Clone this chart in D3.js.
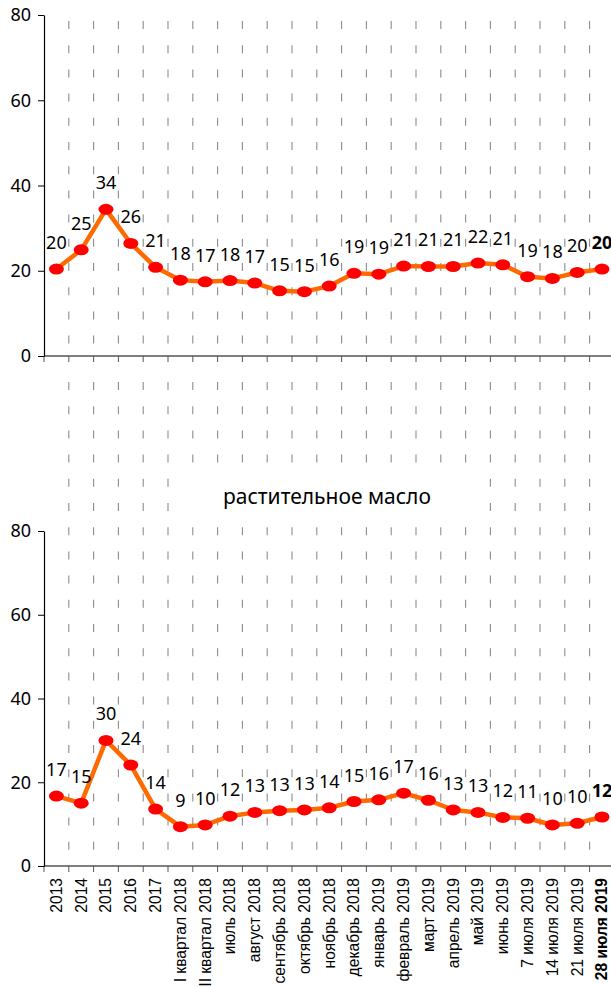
<!DOCTYPE html>
<html>
<head>
<meta charset="utf-8">
<title>chart</title>
<style>
  body { margin: 0; background: #fff; }
  svg { display: block; }
</style>
</head>
<body>
<svg id="chart" width="611" height="987"></svg>
<script src="https://d3js.org/d3.v7.min.js"></script>
<script>
var categories = ["2013", "2014", "2015", "2016", "2017", "I квартал 2018", "II квартал 2018",
  "июль 2018", "август 2018", "сентябрь 2018", "октябрь 2018", "ноябрь 2018", "декабрь 2018",
  "январь 2019", "февраль 2019", "март 2019", "апрель 2019", "май 2019", "июнь 2019",
  "7 июля 2019", "14 июля 2019", "21 июля 2019", "28 июля 2019"];

// upper panel (its title is cut off in the picture)
var topValues = [20.4, 24.9, 34.4, 26.4, 20.8, 17.8, 17.4, 17.7, 17.1, 15.3, 15.1, 16.4,
  19.4, 19.2, 21.1, 21.0, 21.0, 21.8, 21.4, 18.6, 18.2, 19.6, 20.4];

// растительное масло
var oilTitle = "растительное масло";
var oilValues = [16.7, 15.0, 30.0, 24.1, 13.6, 9.4, 9.8, 11.9, 12.8, 13.2, 13.4, 13.9,
  15.4, 15.8, 17.4, 15.7, 13.4, 12.8, 11.6, 11.4, 9.8, 10.2, 11.7];

var yTicks = [0, 20, 40, 60, 80];

var svg = d3.select("#chart");
var left = 44;

var x = d3.scaleBand()
  .domain(categories)
  .range([left, left + 24.8 * categories.length])
  .padding(0);
var bw = x.bandwidth();
var cx = function(d, i) { return x(categories[i]) + bw / 2; };
var bounds = categories.map(function(c) { return x(c); }).concat([x.range()[1]]);

function panel(values, y0, y1, gridTop) {
  var y = d3.scaleLinear().domain([0, 80]).range([y0, y1]);
  var g = svg.append("g");

  // dashed vertical grid
  g.selectAll("line.grid")
    .data(bounds.slice(1))
    .enter()
    .append("line")
    .attr("class", "grid")
    .attr("x1", function(d) { return d; })
    .attr("x2", function(d) { return d; })
    .attr("y1", gridTop)
    .attr("y2", y0)
    .attr("stroke", "#8c8c8c")
    .attr("stroke-width", 1.1)
    .attr("stroke-dasharray", "8,16.2");

  // x axis line + boundary ticks
  g.append("line")
    .attr("x1", left).attr("x2", 611)
    .attr("y1", y0).attr("y2", y0)
    .attr("stroke", "#000").attr("stroke-width", 1.2);
  g.selectAll("line.xt")
    .data(bounds)
    .enter()
    .append("line")
    .attr("class", "xt")
    .attr("x1", function(d) { return d; })
    .attr("x2", function(d) { return d; })
    .attr("y1", y0).attr("y2", y0 + 6)
    .attr("stroke", "#555").attr("stroke-width", 1);

  // y axis
  var ax = g.append("g")
    .attr("transform", "translate(" + left + ",0)")
    .call(d3.axisLeft(y).tickValues(yTicks).tickSize(6).tickSizeOuter(0).tickPadding(7));
  ax.select(".domain").attr("stroke", "#000").attr("stroke-width", 1.2);
  ax.selectAll(".tick line").attr("stroke", "#000");
  ax.selectAll(".tick text")
    .attr("font-family", "'Noto Sans', sans-serif")
    .attr("font-size", 18)
    .attr("fill", "#000");

  var line = d3.line()
    .x(cx)
    .y(function(d) { return y(d); });

  g.append("path")
    .datum(values)
    .attr("d", line)
    .attr("fill", "none")
    .attr("stroke", "#ff6a00")
    .attr("stroke-width", 4.5)
    .attr("stroke-linejoin", "round");

  g.selectAll("ellipse")
    .data(values)
    .enter()
    .append("ellipse")
    .attr("cx", cx)
    .attr("cy", function(d) { return y(d); })
    .attr("rx", 7.5)
    .attr("ry", 5.5)
    .attr("fill", "#ff0000");

  g.selectAll("text.lbl")
    .data(values)
    .enter()
    .append("text")
    .attr("class", "lbl")
    .attr("x", cx)
    .attr("y", function(d) { return y(d) - 20; })
    .attr("text-anchor", "middle")
    .attr("font-family", "'Noto Sans', sans-serif")
    .attr("font-size", 18)
    .attr("font-weight", function(d, i) { return i === values.length - 1 ? "bold" : "normal"; })
    .text(function(d) { return Math.round(d); });

  return g;
}

panel(topValues, 356, 15, 21);
panel(oilValues, 866, 531, 382);

// title of the lower panel, on a white box over the grid
svg.append("rect")
  .attr("x", 180).attr("y", 470)
  .attr("width", 298).attr("height", 50)
  .attr("fill", "#fff");
svg.append("text")
  .attr("x", 327).attr("y", 504)
  .attr("text-anchor", "middle")
  .attr("font-family", "'Noto Sans', sans-serif")
  .attr("font-size", 21)
  .text(oilTitle);

// category labels under the lower panel
svg.selectAll("text.cat")
  .data(categories)
  .enter()
  .append("text")
  .attr("class", "cat")
  .attr("transform", function(d, i) { return "translate(" + cx(d, i) + ",878) rotate(-90)"; })
  .attr("text-anchor", "end")
  .attr("dy", "0.35em")
  .attr("font-family", "'Liberation Sans', Arial, sans-serif")
  .attr("font-size", 15.6)
  .attr("font-weight", function(d, i) { return i === categories.length - 1 ? "bold" : "normal"; })
  .text(function(d) { return d; });
</script>
</body>
</html>
